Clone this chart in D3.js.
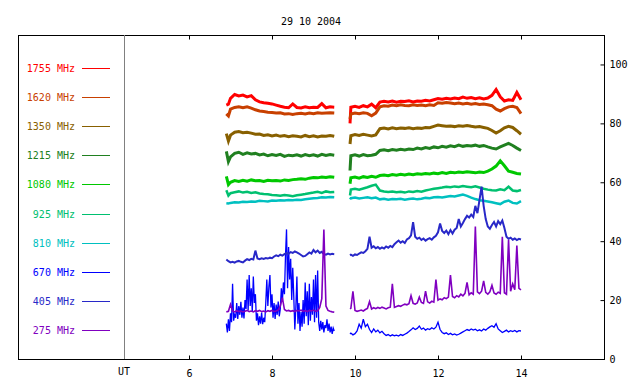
<!DOCTYPE html>
<html>
<head>
<meta charset="utf-8">
<script src="https://cdn.jsdelivr.net/npm/d3@7"></script>
<style>
	body { margin: 0; background: #fff; }
	svg text { font-family: "DejaVu Sans Mono", monospace; font-size: 10px; }
</style>
</head>
<body>
<svg id="chart" width="640" height="384"></svg>
<script>
// times (UT hours); a null value marks the data gap
var coarseTimes = [6.9,6.95,7,7.1,7.2,7.3,7.4,7.5,7.6,7.7,7.8,7.9,8,8.1,8.2,8.3,8.4,8.5,8.6,8.7,8.8,8.9,9,9.1,9.2,9.3,9.4,9.5,
	9.7,
	9.88,9.9,10,10.1,10.2,10.3,10.4,10.5,10.6,10.7,10.8,10.9,11,11.1,11.2,11.3,11.4,11.5,11.6,11.7,11.8,11.9,12,
	12.1,12.2,12.3,12.4,12.5,12.6,12.7,12.8,12.9,13,13.1,13.2,13.3,13.4,13.5,13.6,13.7,13.8,13.9,14];

var fineTimes = [6.9,6.95,7,7.05,7.1,7.15,7.2,7.25,7.3,7.35,7.4,7.45,7.5,7.55,7.6,7.65,7.7,7.75,7.8,7.85,7.9,7.95,
	8,8.05,8.1,8.15,8.2,8.25,8.3,8.35,8.4,8.45,8.5,8.55,8.6,8.65,8.7,8.75,8.8,8.85,8.9,8.95,9,9.05,9.1,9.15,9.2,9.25,
	9.3,9.35,9.4,9.45,9.5,
	9.7,
	9.88,9.9,9.95,10,10.05,10.1,10.15,10.2,10.25,10.3,10.35,10.4,10.45,10.5,10.55,10.6,10.65,10.7,10.75,10.8,10.85,
	10.9,10.95,11,11.05,11.1,11.15,11.2,11.25,11.3,11.35,11.4,11.45,11.5,11.55,11.6,11.65,11.7,11.75,11.8,11.85,11.9,
	11.95,12,12.05,12.1,12.15,12.2,12.25,12.3,12.35,12.4,12.45,12.5,12.55,12.6,12.65,12.7,12.75,12.8,12.85,12.9,12.95,
	13,13.05,13.1,13.15,13.2,13.25,13.3,13.35,13.4,13.45,13.5,13.55,13.6,13.65,13.7,13.75,13.8,13.85,13.9,13.95,14];

// 670 MHz has a denser first run (the burst)
var times670 = [6.9,6.925,6.95,6.975,7,7.025,7.05,7.075,7.1,7.125,7.15,7.175,7.2,7.225,7.25,7.275,7.3,7.325,7.35,
	7.375,7.4,7.425,7.45,7.475,7.5,7.525,7.55,7.575,7.6,7.625,7.65,7.675,7.7,7.725,7.75,7.775,7.8,7.825,7.85,7.875,
	7.9,7.925,7.95,7.975,8,8.025,8.05,8.075,8.1,8.125,8.15,8.175,8.2,8.225,8.25,8.275,8.3,8.325,8.35,8.375,8.4,8.425,
	8.45,8.475,8.5,8.525,8.55,8.575,8.6,8.625,8.65,8.675,8.7,8.725,8.75,8.775,8.8,8.825,8.85,8.875,8.9,8.925,8.95,
	8.975,9,9.025,9.05,9.075,9.1,9.125,9.15,9.175,9.2,9.225,9.25,9.275,9.3,9.325,9.35,9.375,9.4,9.425,9.45,9.475,9.5,
	9.7,
	9.88,9.9,9.95,10,10.05,10.1,10.15,10.2,10.25,10.3,10.35,10.4,10.45,10.5,10.55,10.6,10.65,10.7,10.75,10.8,10.85,
	10.9,10.95,11,11.05,11.1,11.15,11.2,11.25,11.3,11.35,11.4,11.45,11.5,11.55,11.6,11.65,11.7,11.75,11.8,11.85,11.9,
	11.95,12,12.05,12.1,12.15,12.2,12.25,12.3,12.35,12.4,12.45,12.5,12.55,12.6,12.65,12.7,12.75,12.8,12.85,12.9,12.95,
	13,13.05,13.1,13.15,13.2,13.25,13.3,13.35,13.4,13.45,13.5,13.55,13.6,13.65,13.7,13.75,13.8,13.85,13.9,13.95,14];

var freqLabels = ["1755 MHz","1620 MHz","1350 MHz","1215 MHz","1080 MHz","925 MHz","810 MHz","670 MHz","405 MHz","275 MHz"];

var flux1755 = [86.2,86.5,88.5,89.8,89.3,89.6,89.0,89.4,88.0,87.3,87.0,86.8,86.6,86.2,85.8,85.5,85.3,86.6,85.4,85.2,85.6,85.3,85.5,85.4,86.7,85.3,85.6,85.5,
	null,
	80.0,85.5,85.8,85.4,86.0,85.6,86.5,85.3,87.2,87.5,87.3,87.6,87.2,87.5,87.4,87.7,87.3,87.6,87.5,87.8,87.6,88.0,88.4,
	88.2,88.5,88.3,88.6,88.4,88.9,88.5,88.8,88.4,88.7,88.3,88.6,89.5,91.5,89.0,87.6,88.0,87.8,90.5,88.0];

var flux1620 = [83.2,82.5,84.8,85.4,85.6,85.3,85.6,85.2,84.6,84.2,84.0,83.8,83.7,83.5,83.6,83.2,83.3,83.0,83.3,83.4,83.2,83.5,83.3,83.6,83.4,83.5,83.6,83.5,
	null,
	81.5,83.2,83.5,83.3,83.6,83.4,82.6,83.5,85.6,86.0,85.8,86.2,86.0,86.3,86.1,86.0,86.3,86.1,86.2,86.0,86.3,86.1,87.0,
	86.8,87.1,86.9,86.7,86.9,86.6,86.8,86.5,86.7,86.4,86.6,86.3,86.0,84.8,84.2,85.0,85.6,85.8,85.4,83.3];

var flux1350 = [76.5,74.0,76.0,77.0,77.2,76.8,77.0,76.7,76.3,76.4,75.9,76.1,75.7,76.0,75.6,75.9,75.5,75.8,75.6,75.4,75.9,75.5,75.8,75.4,75.7,75.6,75.9,75.6,
	null,
	73.0,75.8,76.2,75.9,76.3,76.0,75.7,76.1,78.2,78.4,78.1,78.5,78.2,78.4,78.3,78.5,78.2,78.4,78.3,78.6,78.5,79.0,79.4,
	79.2,79.0,79.1,78.9,79.2,79.0,79.3,79.0,78.8,78.9,78.6,78.3,77.6,76.7,77.5,78.5,79.0,78.6,77.5,76.3];

var flux1215 = [70.5,67.0,68.6,69.8,70.2,69.5,70.0,69.6,69.8,69.3,69.6,69.0,69.4,69.1,69.5,68.8,69.2,69.0,69.3,68.9,69.4,69.0,69.3,68.9,69.5,69.1,69.4,69.2,
	null,
	64.0,69.0,69.3,68.9,69.4,69.0,69.2,69.5,70.8,71.0,70.7,71.1,70.9,71.2,71.0,71.3,71.1,71.6,71.3,71.8,71.5,72.0,71.7,
	72.2,71.9,72.4,72.1,72.6,72.2,72.5,72.3,72.6,72.2,72.5,72.0,71.6,71.3,72.0,72.6,73.2,72.5,71.6,70.8];

var flux1080 = [62.0,59.2,60.0,60.6,60.3,60.7,60.4,60.8,60.5,60.6,60.3,60.7,60.5,60.6,60.4,60.8,60.6,60.9,61.0,61.2,61.0,61.4,61.6,61.5,61.8,61.6,61.9,61.7,
	null,
	59.5,61.5,61.8,61.4,61.9,61.6,62.0,61.7,62.3,62.5,62.2,62.6,62.4,62.7,62.5,62.8,62.6,62.9,62.7,63.0,62.8,63.1,62.9,
	63.3,63.0,63.4,63.2,63.5,63.3,63.6,63.4,63.2,63.5,63.3,63.8,64.5,65.5,67.3,65.6,63.8,63.4,63.0,62.8];

var flux925 = [57.3,55.5,56.3,56.6,56.9,56.5,56.8,56.4,56.6,56.2,56.0,55.9,55.7,55.6,55.4,55.7,55.5,55.3,55.6,55.8,56.0,56.3,56.5,56.8,56.4,56.9,56.6,56.7,
	null,
	55.5,57.5,57.8,57.5,57.9,58.3,58.8,59.2,57.2,56.9,56.7,56.9,56.6,56.8,56.5,56.9,56.7,57.0,56.8,57.2,57.5,57.8,58.0,
	58.2,58.5,58.3,58.6,58.4,58.7,58.5,58.3,58.6,58.2,57.8,57.5,57.3,57.2,57.6,57.3,58.5,57.2,57.0,57.4];

var flux810 = [52.9,52.8,53.0,53.2,53.1,53.4,53.3,53.5,53.4,53.7,53.6,53.5,53.8,53.7,53.9,53.8,54.0,53.9,54.1,54.0,54.2,54.4,54.6,54.7,54.9,54.8,55.0,54.9,
	null,
	54.2,54.6,54.8,54.5,54.7,54.9,54.6,54.8,54.2,54.4,54.1,54.3,54.2,54.4,54.1,54.3,54.5,54.2,54.4,54.7,54.6,54.9,55.0,
	54.8,55.1,55.3,55.2,55.5,55.8,55.4,54.8,54.3,53.9,53.7,53.5,53.2,52.9,52.6,53.4,53.8,53.0,52.8,53.6];

var flux670 = [12.0,9.0,13.5,9.5,
	15.5,12.5,25.5,13.0,15.0,
	14.0,19.0,13.6,18.0,15.0,19.4,14.0,17.5,13.8,20.0,
	17.0,27.0,16.5,28.5,18.0,24.0,16.0,28.0,19.0,22.0,
	13.0,15.5,11.5,14.5,12.0,15.8,11.8,14.0,12.5,
	19.0,27.0,18.0,24.5,28.5,17.5,22.0,
	14.0,19.0,13.6,18.5,15.0,19.5,14.5,17.0,
	24.0,19.5,26.0,
	22.0,35.0,44.0,24.0,38.0,27.0,34.0,20.0,31.0,21.0,
	10.0,17.5,28.0,12.0,19.0,9.5,16.0,11.0,
	20.0,12.0,26.0,14.5,23.0,11.5,25.5,13.0,21.0,
	15.0,27.0,12.5,28.5,14.0,30.0,
	12.5,9.5,13.0,10.0,12.5,9.0,11.5,10.5,13.5,9.5,12.0,9.0,11.0,8.5,10.5,9.5,
	null,
	8.5,8.8,8.2,8.6,9.5,11.8,10.5,13.5,11.0,11.8,10.0,9.0,10.2,9.2,9.8,8.9,9.4,8.6,8.0,8.3,7.8,8.2,7.9,8.1,7.8,8.3,8.0,8.4,
	8.8,9.3,9.9,10.6,10.0,10.4,11.2,10.1,10.5,9.8,10.3,10.0,10.6,10.2,10.8,12.5,10.0,9.0,8.6,8.9,8.3,8.7,8.2,8.5,8.1,8.4,
	8.8,9.2,9.6,10.0,9.7,10.2,9.8,10.1,9.6,9.9,9.5,10.2,9.8,10.4,10.9,11.3,10.8,12.0,10.2,9.6,9.0,9.4,9.8,9.2,9.6,9.3,9.7,
	9.2,9.6,9.5];

var flux405 = [33.8,33.2,32.8,33.0,32.7,33.1,33.3,33.0,32.8,33.4,33.9,33.6,34.0,33.8,36.8,34.1,33.9,34.2,34.0,34.3,34.1,34.4,
	34.2,34.8,35.2,34.9,35.4,35.1,35.6,36.0,35.7,36.3,36.0,36.5,36.2,35.8,35.3,34.8,35.0,35.6,36.2,35.8,37.0,36.2,36.8,36.0,
	36.4,35.6,35.4,35.8,35.5,35.7,35.6,
	null,
	35.2,35.4,35.0,35.5,35.3,35.8,36.2,36.0,36.6,37.4,41.5,37.8,38.3,37.6,38.0,37.4,37.9,37.5,38.2,37.8,38.4,38.0,39.0,39.6,
	40.2,39.5,40.0,39.4,40.6,41.0,42.0,46.5,41.5,40.8,41.2,40.4,40.9,40.2,40.7,41.0,40.5,41.3,41.8,43.0,46.0,43.5,42.8,43.6,
	42.4,43.8,42.6,43.9,44.5,47.5,45.0,46.2,47.5,48.6,48.0,49.0,48.2,52.0,49.5,54.0,58.5,52.0,47.5,45.0,44.2,45.5,46.5,45.0,
	46.8,45.8,47.0,44.5,41.5,40.8,41.2,40.5,40.9,40.4,40.8,40.6];

var flux275 = [16.0,16.2,18.5,16.3,16.0,16.4,16.1,16.3,16.0,16.2,16.5,16.1,16.3,16.0,16.4,16.2,16.5,16.1,16.3,16.0,16.4,16.2,
	16.5,16.1,16.3,16.6,18.0,20.8,16.8,16.3,16.5,16.2,16.4,16.1,16.5,16.3,16.6,16.2,16.4,16.1,16.5,16.3,16.6,16.2,16.4,17.5,
	20.5,44.0,18.0,16.5,16.2,16.0,15.9,
	null,
	17.0,17.2,23.0,16.5,16.2,16.4,16.6,16.3,16.8,17.2,19.5,17.0,17.4,17.1,17.5,17.2,17.6,17.3,17.0,17.4,17.6,25.5,17.5,17.8,
	18.1,17.9,18.3,18.6,18.4,18.8,21.5,18.9,18.6,19.0,21.0,19.2,18.9,23.0,19.4,19.0,19.6,19.3,27.0,20.0,20.4,20.1,20.8,20.5,
	21.0,28.5,21.2,20.8,21.5,21.1,22.0,21.4,22.3,26.0,21.8,22.5,22.0,45.0,22.8,22.2,23.0,26.5,22.6,22.0,22.8,25.0,22.4,22.0,
	22.7,22.3,41.5,22.5,22.0,40.5,23.0,25.5,23.5,38.5,24.0,23.5];

var xTicks = [6, 8, 10, 12, 14];
var yTicks = [0, 20, 40, 60, 80, 100];

var seriesColors = ["#ff0000","#c84000","#886000","#208020","#00c800","#00c070","#00c0c0","#0000ff","#2828c8","#8000c0"];

(function() {
	var svg = d3.select("#chart");

	var frame = {left: 18, right: 604, top: 35, bottom: 359};
	var utX = 124;

	var x = d3.scaleLinear().domain([6, 16]).range([189, frame.right]);
	var y = d3.scaleLinear().domain([0, 110]).range([frame.bottom, frame.top]);

	var series = [
		{vals: flux1755, times: coarseTimes, w: 3},
		{vals: flux1620, times: coarseTimes, w: 3},
		{vals: flux1350, times: coarseTimes, w: 3},
		{vals: flux1215, times: coarseTimes, w: 3},
		{vals: flux1080, times: coarseTimes, w: 3},
		{vals: flux925, times: coarseTimes, w: 2.5},
		{vals: flux810, times: coarseTimes, w: 2.5},
		{vals: flux670, times: times670, w: 1.3},
		{vals: flux405, times: fineTimes, w: 2},
		{vals: flux275, times: fineTimes, w: 1.6}
	];

	// frame
	svg.append("rect")
		.attr("x", frame.left + 0.5).attr("y", frame.top + 0.5)
		.attr("width", frame.right - frame.left).attr("height", frame.bottom - frame.top)
		.attr("fill", "none").attr("stroke", "#000").attr("stroke-width", 1);

	svg.append("line")
		.attr("x1", utX + 0.5).attr("x2", utX + 0.5)
		.attr("y1", frame.top).attr("y2", frame.bottom)
		.attr("stroke", "#808080").attr("stroke-width", 1);

	// axes
	var xAxis = svg.append("g")
		.attr("transform", "translate(0," + (frame.bottom + 0.5) + ")")
		.call(d3.axisBottom(x).tickValues(xTicks).tickSize(-4).tickSizeOuter(0).tickPadding(10));
	xAxis.select(".domain").remove();

	var xTop = svg.append("g")
		.attr("transform", "translate(0," + (frame.top + 0.5) + ")")
		.call(d3.axisTop(x).tickValues(xTicks).tickSize(-4).tickSizeOuter(0).tickFormat(""));
	xTop.select(".domain").remove();

	var yAxis = svg.append("g")
		.attr("transform", "translate(" + (frame.right + 0.5) + ",0)")
		.call(d3.axisRight(y).tickValues(yTicks).tickSize(-4).tickSizeOuter(0).tickPadding(5));
	yAxis.select(".domain").remove();

	svg.selectAll(".tick text").attr("font-family", "DejaVu Sans Mono").attr("font-size", 10).attr("fill", "#000");

	svg.append("text")
		.attr("x", utX).attr("y", 375)
		.attr("text-anchor", "middle")
		.text("UT");

	svg.append("text")
		.attr("x", (frame.left + frame.right) / 2).attr("y", 25)
		.attr("text-anchor", "middle")
		.text("29 10 2004");

	// legend
	var legendY = d3.scaleLinear().domain([0, freqLabels.length - 1]).range([68, 330]);
	var legend = svg.append("g").selectAll("g")
		.data(freqLabels)
		.enter().append("g")
		.attr("transform", function(d, i) { return "translate(0," + Math.round(legendY(i)) + ")"; });
	legend.append("text")
		.attr("x", 75).attr("dy", "0.35em")
		.attr("text-anchor", "end")
		.attr("fill", function(d, i) { return seriesColors[i]; })
		.text(function(d) { return d; });
	legend.append("line")
		.attr("x1", 82).attr("x2", 110).attr("y1", 0.5).attr("y2", 0.5)
		.attr("stroke", function(d, i) { return seriesColors[i]; })
		.attr("stroke-width", 1);

	// data lines
	var line = d3.line()
		.defined(function(d) { return d.v !== null; })
		.x(function(d) { return x(d.t); })
		.y(function(d) { return y(d.v); });

	svg.append("g").selectAll("path")
		.data(series)
		.enter().append("path")
		.attr("fill", "none")
		.attr("stroke", function(d, i) { return seriesColors[i]; })
		.attr("stroke-width", function(d) { return d.w; })
		.attr("stroke-linejoin", "miter")
		.attr("d", function(s) {
			var pts = s.vals.map(function(v, i) { return {t: s.times[i], v: v}; });
			return line(pts);
		});
})();
</script>
</body>
</html>
